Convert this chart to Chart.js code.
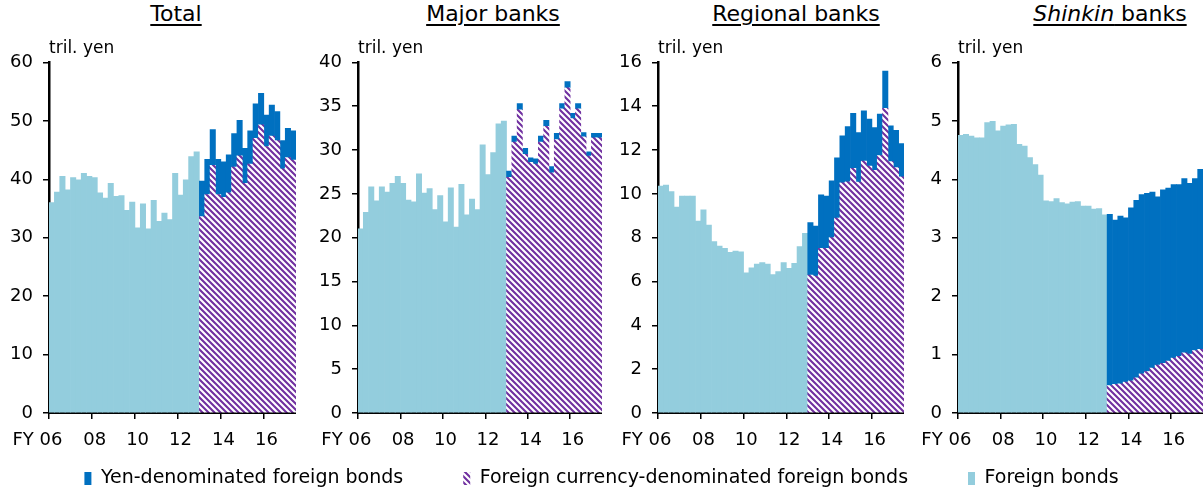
<!DOCTYPE html>
<html>
<head>
<meta charset="utf-8">
<script src="https://cdn.jsdelivr.net/npm/chart.js@4/dist/chart.umd.min.js"></script>
<style>
  html, body { margin: 0; padding: 0; background: #fff; overflow: hidden; }
  body { width: 1203px; height: 490px; position: relative; font-family: "DejaVu Sans", sans-serif; }
  canvas { position: absolute; top: 0; }
  .ttl { position: absolute; top: 3px; width: 300px; text-align: center; font-size: 22px; line-height: 22px;
         color: #000; text-decoration: underline; text-decoration-thickness: 2px; text-underline-offset: 3px; }
</style>
</head>
<body>
<div class="ttl" style="left:26px">Total</div>
<div class="ttl" style="left:343px">Major banks</div>
<div class="ttl" style="left:646px">Regional banks</div>
<div class="ttl" style="left:960px"><i>Shinkin</i> banks</div>
<canvas id="leg" width="1203" height="220" style="top:409px;left:0px"></canvas>
<canvas id="c0" width="296" height="450" style="left:0px"></canvas>
<canvas id="c1" width="302" height="450" style="left:300px"></canvas>
<canvas id="c2" width="304" height="450" style="left:600px"></canvas>
<canvas id="c3" width="303" height="450" style="left:900px"></canvas>
<script>
// ---------- categories ----------
const fiscalYears = ['06','07','08','09','10','11','12','13','14','15','16','17'];
const quarters = ['Q1','Q2','Q3','Q4'];
const nQuarters = 46;                 // FY06 Q1 .. FY17 Q2
const nBefore = 28;                   // FY06 Q1 .. FY12 Q4 (foreign bonds only)
const xTickLabels = ['FY 06     ', '08', '10', '12', '14', '16'];

// ---------- series (tril. yen) ----------
// Total
const totalForeignBonds = [36.0, 37.8, 40.5, 38.2, 40.3, 39.9, 41.0, 40.5, 40.3, 37.7, 36.8, 39.3, 37.1, 37.2,
  34.7, 36.1, 31.7, 35.8, 31.5, 36.4, 32.8, 34.2, 33.1, 41.0, 37.3, 39.9, 43.9, 44.7];
const totalForeignCcy = [33.6, 37.4, 42.4, 37.4, 36.9, 37.7, 42.1, 44.0, 39.3, 42.6, 47.0, 49.3, 45.6, 47.4, 46.6, 41.8, 43.7, 43.3];
const totalYen = [6.1, 6.0, 6.1, 6.0, 6.1, 6.5, 5.7, 6.1, 6.0, 5.7, 5.9, 5.4, 5.4, 5.3, 5.0, 4.8, 5.0, 5.0];

// Major banks
const majorForeignBonds = [21.0, 22.9, 25.8, 24.2, 25.8, 25.2, 26.2, 27.0, 26.2, 24.3, 24.1, 27.3, 25.1, 25.6,
  23.2, 24.8, 21.8, 25.7, 21.2, 26.1, 22.6, 24.4, 23.2, 30.6, 27.2, 29.7, 33.0, 33.3];
const majorForeignCcy = [26.9, 30.9, 34.6, 29.5, 28.6, 28.4, 30.9, 32.7, 27.4, 31.2, 34.7, 37.1, 33.6, 34.7, 31.5, 29.3, 31.4, 31.4];
const majorYen = [0.7, 0.7, 0.7, 0.7, 0.5, 0.6, 0.7, 0.7, 0.7, 0.7, 0.6, 0.7, 0.6, 0.6, 0.5, 0.5, 0.5, 0.5];

// Regional banks
const regionalForeignBonds = [10.36, 10.4, 10.1, 9.4, 9.9, 9.9, 9.9, 8.76, 9.27, 8.58, 7.82, 7.62, 7.51, 7.33,
  7.39, 7.36, 6.4, 6.63, 6.8, 6.87, 6.8, 6.32, 6.45, 6.87, 6.6, 6.83, 7.6, 8.2];
const regionalForeignCcy = [6.29, 6.25, 7.51, 7.51, 8.0, 8.9, 10.5, 10.55, 11.17, 10.54, 11.5, 11.27, 11.08, 11.75, 13.9, 11.47, 11.2, 10.78];
const regionalYen = [2.4, 2.28, 2.45, 2.39, 2.6, 2.75, 2.15, 2.52, 2.51, 2.26, 2.29, 2.14, 1.95, 1.89, 1.7, 1.63, 1.7, 1.52];

// Shinkin banks
const shinkinForeignBonds = [4.75, 4.77, 4.74, 4.71, 4.71, 4.97, 4.99, 4.83, 4.91, 4.93, 4.94, 4.6, 4.57, 4.37,
  4.25, 4.07, 3.63, 3.62, 3.67, 3.6, 3.58, 3.61, 3.62, 3.54, 3.54, 3.49, 3.5, 3.39];
const shinkinForeignCcy = [0.47, 0.49, 0.5, 0.53, 0.55, 0.6, 0.67, 0.71, 0.77, 0.82, 0.85, 0.89, 0.94, 0.97, 1.03, 1.01, 1.07, 1.09];
const shinkinYen = [2.93, 2.81, 2.87, 2.81, 2.96, 3.04, 3.07, 3.05, 3.01, 2.88, 2.97, 2.96, 2.97, 2.94, 2.98, 2.92, 2.94, 3.08];

// y-axis ticks
const totalTicks = [0, 10, 20, 30, 40, 50, 60];
const majorTicks = [0, 5, 10, 15, 20, 25, 30, 35, 40];
const regionalTicks = [0, 2, 4, 6, 8, 10, 12, 14, 16];
const shinkinTicks = [0, 1, 2, 3, 4, 5, 6];

const seriesNames = ['Yen-denominated foreign bonds', 'Foreign currency-denominated foreign bonds', 'Foreign bonds'];

// ---------- build ----------
const categories = [];
for (const fy of fiscalYears) for (const q of quarters) if (categories.length < nQuarters) categories.push('FY' + fy + ' ' + q);

const COLOR_YEN = '#0070C0';
const COLOR_FB = '#93CDDD';
const COLOR_PURPLE = '#7030A0';

function makeHatch() {
  const s = 6;
  const c = document.createElement('canvas');
  c.width = s; c.height = s;
  const g = c.getContext('2d');
  g.fillStyle = '#fff'; g.fillRect(0, 0, s, s);
  g.strokeStyle = COLOR_PURPLE; g.lineWidth = 2.1;
  g.beginPath();
  for (let k = -s; k <= s; k += s) { g.moveTo(k - 1, -1); g.lineTo(k + s + 1, s + 1); }
  g.stroke();
  return g.createPattern(c, 'repeat');
}
const HATCH = makeHatch();

Chart.defaults.font.family = '"DejaVu Sans", sans-serif';
Chart.defaults.color = '#000';
Chart.defaults.animation = false;

function pad(before, arr, after) {
  const out = [];
  for (let i = 0; i < before; i++) out.push(null);
  for (const v of arr) out.push(v);
  for (let i = 0; i < after; i++) out.push(null);
  return out;
}

function panel(id, fb, fc, yen, ticks, axisWidth) {
  const nAfter = nQuarters - nBefore;
  new Chart(document.getElementById(id), {
    type: 'bar',
    data: {
      labels: categories,
      datasets: [
        { label: seriesNames[1], data: pad(nBefore, fc, 0), backgroundColor: HATCH },
        { label: seriesNames[0], data: pad(nBefore, yen, 0), backgroundColor: COLOR_YEN },
        { label: seriesNames[2], data: pad(0, fb, nAfter), backgroundColor: COLOR_FB }
      ]
    },
    options: {
      responsive: false,
      animation: false,
      layout: { padding: 0 },
      datasets: { bar: { barPercentage: 1, categoryPercentage: 1, borderWidth: 0 } },
      plugins: {
        legend: { display: false },
        tooltip: { enabled: false },
        title: {
          display: true, text: 'tril. yen', align: 'start', fullSize: false,
          font: { size: 17, weight: 'normal' }, color: '#000',
          padding: { top: 38, bottom: 4 }
        }
      },
      scales: {
        x: {
          stacked: true,
          offset: true,
          grid: {
            offset: true, drawOnChartArea: false, drawTicks: true, tickLength: 6, lineWidth: 1.5,
            color: (ctx) => (ctx.index !== undefined && ctx.index % 8 === 0) ? '#000' : 'rgba(0,0,0,0)'
          },
          border: { display: true, color: '#000', width: 2 },
          ticks: {
            autoSkip: false, maxRotation: 0, minRotation: 0, padding: 11,
            font: { size: 18 }, color: '#000',
            callback: (v, i) => (i % 8 === 0 ? xTickLabels[i / 8] : '')
          },
          afterFit: (s) => { s.height = 37; s.paddingLeft = 0; s.paddingRight = 0; }
        },
        y: {
          stacked: true,
          min: ticks[0], max: ticks[ticks.length - 1],
          afterBuildTicks: (s) => { s.ticks = ticks.map(v => ({ value: v })); },
          grid: { drawOnChartArea: false, drawTicks: true, tickLength: 6, lineWidth: 1.5, color: '#000' },
          border: { display: true, color: '#000', width: 2.5 },
          ticks: { font: { size: 18 }, color: '#000', padding: 10 },
          afterFit: (s) => { s.width = axisWidth; }
        }
      }
    }
  });
}

panel('c0', totalForeignBonds, totalForeignCcy, totalYen, totalTicks, 49);
panel('c1', majorForeignBonds, majorForeignCcy, majorYen, majorTicks, 58);
panel('c2', regionalForeignBonds, regionalForeignCcy, regionalYen, regionalTicks, 58);
panel('c3', shinkinForeignBonds, shinkinForeignCcy, shinkinYen, shinkinTicks, 58);

// shared legend
new Chart(document.getElementById('leg'), {
  type: 'bar',
  data: {
    labels: ['x'],
    datasets: [
      { label: seriesNames[0], data: [null], backgroundColor: COLOR_YEN, borderWidth: 0 },
      { label: seriesNames[1], data: [null], backgroundColor: HATCH, borderWidth: 0 },
      { label: seriesNames[2], data: [null], backgroundColor: COLOR_FB, borderWidth: 0 }
    ]
  },
  options: {
    responsive: false,
    animation: false,
    scales: { x: { display: false }, y: { display: false } },
    plugins: {
      tooltip: { enabled: false },
      legend: {
        display: true, position: 'top',
        labels: { boxWidth: 7, boxHeight: 13, padding: 60, font: { size: 19 }, color: '#000' }
      }
    }
  }
});
</script>
</body>
</html>
